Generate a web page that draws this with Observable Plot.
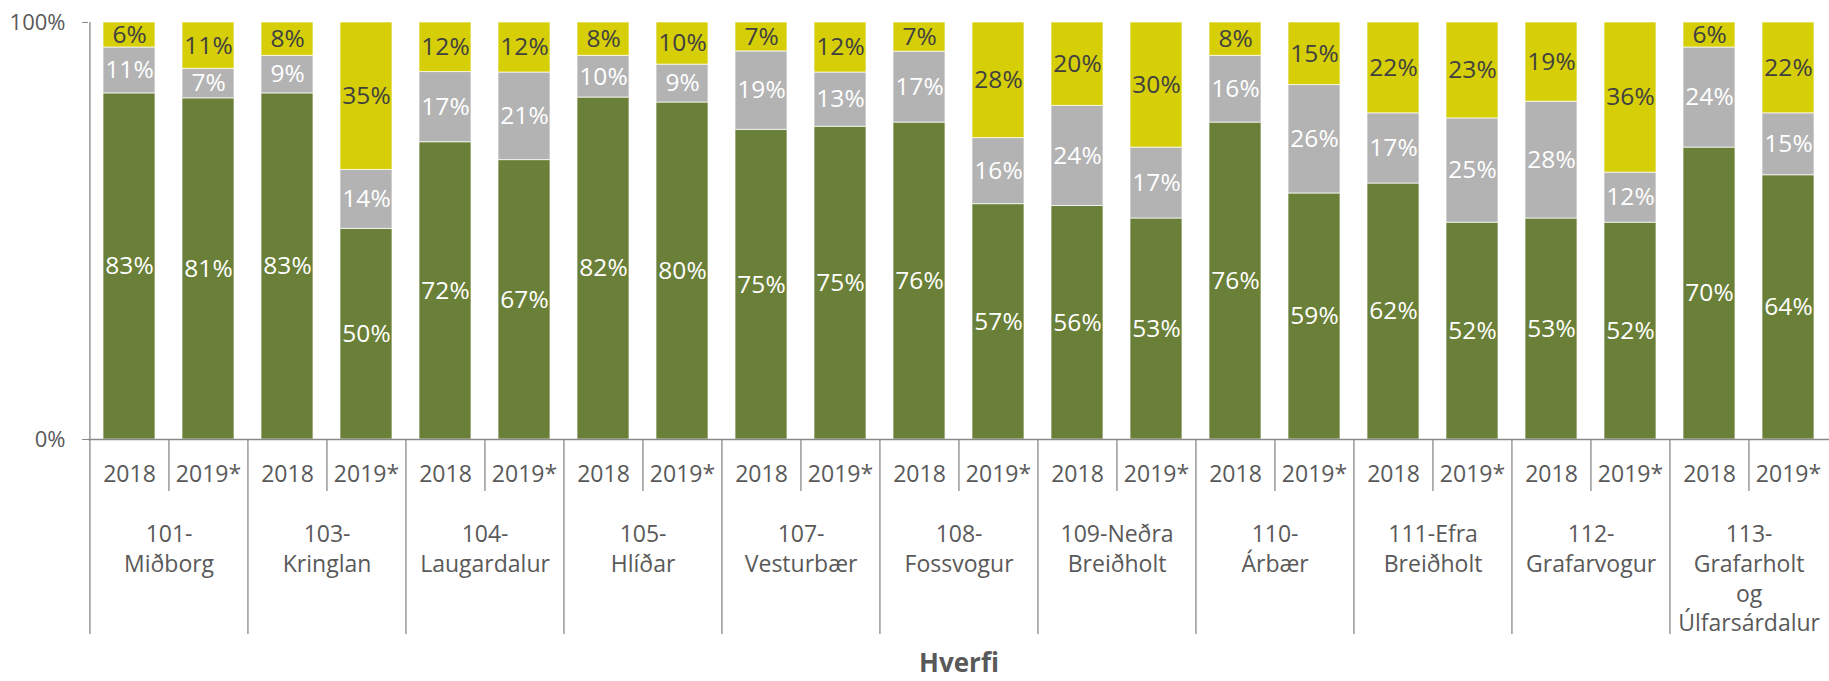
<!DOCTYPE html>
<html><head><meta charset="utf-8">
<script src="https://cdn.jsdelivr.net/npm/d3@7"></script>
<script src="https://cdn.jsdelivr.net/npm/@observablehq/plot@0.6"></script>
<style>body{margin:0;background:#fff}svg{display:block}</style>
</head><body><div id="chart"></div>
<script>
// ---- data ----
const groups = ["101-\nMiðborg","103-\nKringlan","104-\nLaugardalur","105-\nHlíðar","107-\nVesturbær","108-\nFossvogur","109-Neðra\nBreiðholt","110-\nÁrbær","111-Efra\nBreiðholt","112-\nGrafarvogur","113-\nGrafarholt\nog\nÚlfarsárdalur"];
const years = ["2018","2019*"];
const series = ["s1","s2","s3"];
const seriesColors = ["#6a7f37","#b3b3b3","#d6cf07"];
// values per bar, in order group0-2018, group0-2019*, group1-2018, ...
const s1 = [83,81, 83,50, 72,67, 82,80, 75,75, 76,57, 56,53, 76,59, 62,52, 53,52, 70,64];
const s2 = [11,7,  9,14,  17,21, 10,9,  19,13, 17,16, 24,17, 16,26, 17,25, 28,12, 24,15];
const s3 = [6,11,  8,35,  12,12, 8,10,  7,12,  7,28,  20,30, 8,15,  22,23, 19,36, 6,22];
const yTicks = [0, 1];
const yTickLabels = ["0%", "100%"];
const axisTitle = "Hverfi";

// ---- build tables ----
const bars = [];
groups.forEach((g, gi) => years.forEach((y, yi) => bars.push({key: gi + "|" + y, group: g, year: y, idx: gi * 2 + yi})));
const keys = bars.map(b => b.key);
const seriesValues = [s1, s2, s3];
const rows = [];
bars.forEach(b => series.forEach((s, si) => rows.push({key: b.key, series: s, value: seriesValues[si][b.idx]})));
const groupFirst = bars.filter(b => b.year === years[0]);
const yearSecond = bars.filter(b => b.year === years[1]);

const W = 1829, H = 681, ML = 88, MR = 0, MT = 22, MB = 242;
const PI = 0.343, PO = 0.1715;
const xs = Plot.scale({x: {type: "band", domain: keys, range: [ML, W - MR], paddingInner: PI, paddingOuter: PO}});
const step = xs.step;
const lineColor = "#898989", textColor = "#595959";
const FONT = "Open Sans";

const chart = Plot.plot({
  width: W, height: H,
  marginLeft: ML, marginRight: MR, marginTop: MT, marginBottom: MB,
  style: {fontFamily: FONT, fontSize: "23px", color: textColor, background: "white"},
  x: {domain: keys, paddingInner: PI, paddingOuter: PO, axis: null},
  y: {domain: [0, 1], axis: null, label: null},
  color: {domain: series, range: seriesColors},
  marks: [
    Plot.barY(rows, Plot.stackY({offset: "normalize"}, {x: "key", y: "value", fill: "series", stroke: "white", strokeWidth: 1, strokeOpacity: 0.7})),
    Plot.text(rows, Plot.stackY({offset: "normalize"}, {x: "key", y: "value", text: d => d.series === "s3" ? null : d.value + "%", fill: "white", fontSize: 24.5})),
    Plot.text(rows, Plot.stackY({offset: "normalize"}, {x: "key", y: "value", text: d => d.series === "s3" ? d.value + "%" : null, fill: "#404040", fontSize: 24.5})),
    Plot.axisY(yTicks, {label: null, tickFormat: d => yTickLabels[yTicks.indexOf(d)], tickSize: 6, tickPadding: 17, stroke: lineColor, fill: textColor, fontSize: 22}),
    // vertical axis line + group separators
    Plot.ruleX([keys[0]], {x: d => d, dx: -step / 2, stroke: lineColor, strokeWidth: 1.3}),
    Plot.ruleX(groupFirst, {x: "key", y1: 0, y2: 0, dx: -step / 2, insetBottom: -195, stroke: lineColor, strokeWidth: 1.3}),
    Plot.ruleX(yearSecond, {x: "key", y1: 0, y2: 0, dx: -step / 2, insetBottom: -52, stroke: lineColor, strokeWidth: 1.3}),
    Plot.ruleY([0], {stroke: lineColor, strokeWidth: 1.3}),
    // year labels
    Plot.text(bars, {x: "key", text: "year", frameAnchor: "bottom", lineAnchor: "top", dy: 26, fill: textColor, fontSize: 23}),
    // group labels
    Plot.text(groupFirst, {x: "key", text: "group", frameAnchor: "bottom", lineAnchor: "top", dx: step / 2, dy: 81, lineHeight: 1.3, fill: textColor, fontSize: 23}),
    // axis title
    Plot.text([axisTitle], {text: d => d, frameAnchor: "bottom", lineAnchor: "top", dy: 214, fontWeight: "bold", fontSize: 26, fill: textColor})
  ]
});
document.getElementById("chart").appendChild(chart);
</script>
</body></html>
